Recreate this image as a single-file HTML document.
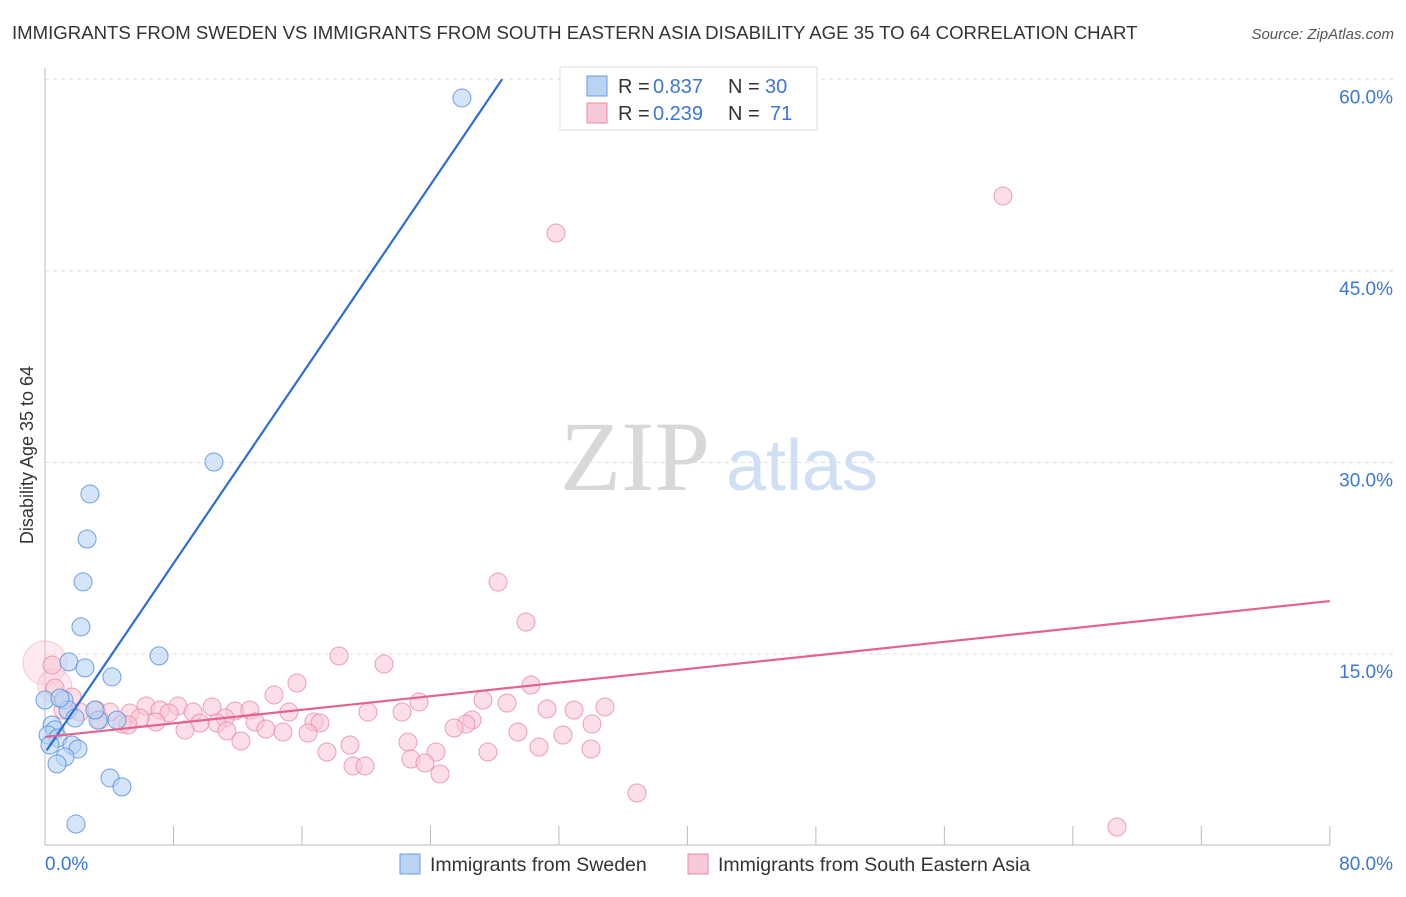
<!DOCTYPE html>
<html><head><meta charset="utf-8"><style>
body{margin:0;background:#fff;font-family:"Liberation Sans",sans-serif;}
</style></head><body>
<svg id="chart" width="1406" height="892" xmlns="http://www.w3.org/2000/svg" style="font-family:'Liberation Sans',sans-serif">
<text x="12" y="39" font-size="18.6" fill="#333">IMMIGRANTS FROM SWEDEN VS IMMIGRANTS FROM SOUTH EASTERN ASIA DISABILITY AGE 35 TO 64 CORRELATION CHART</text>
<text x="1394" y="39" font-size="15" fill="#555" font-style="italic" text-anchor="end">Source: ZipAtlas.com</text>
<text x="33" y="455" font-size="18" fill="#333" transform="rotate(-90 33 455)" text-anchor="middle">Disability Age 35 to 64</text>
<g>
<text x="635" y="490" font-size="100" fill="#d8d8d8" style="font-family:'Liberation Serif',serif" text-anchor="middle">ZIP</text>
<text x="802" y="490" font-size="72" fill="#cfe0f5" text-anchor="middle">atlas</text>
</g>
<g id="grid"></g><g id="axes"></g><g id="points"></g><g id="lines"></g>
<g>
<rect x="560" y="67" width="257" height="63" fill="#fff" stroke="#ddd"/>
<rect x="587" y="76" width="20" height="20" fill="#b9d3f5" stroke="#6a9ee0"/>
<rect x="587" y="103" width="20" height="20" fill="#f9c8d6" stroke="#e88aa8"/>
<text x="618" y="93" font-size="20" fill="#333">R =</text><text x="653" y="93" font-size="20" fill="#3a78d4">0.837</text>
<text x="728" y="93" font-size="20" fill="#333">N =</text><text x="765" y="93" font-size="20" fill="#3a78d4">30</text>
<text x="618" y="120" font-size="20" fill="#333">R =</text><text x="653" y="120" font-size="20" fill="#3a78d4">0.239</text>
<text x="728" y="120" font-size="20" fill="#333">N =</text><text x="770" y="120" font-size="20" fill="#3a78d4">71</text>
</g>
<g>
<rect x="400" y="854" width="20" height="20" fill="#b9d3f5" stroke="#6a9ee0"/>
<text x="430" y="871" font-size="19.5" fill="#333">Immigrants from Sweden</text>
<rect x="688" y="854" width="20" height="20" fill="#f9c8d6" stroke="#e88aa8"/>
<text x="718" y="871" font-size="19.5" fill="#333">Immigrants from South Eastern Asia</text>
</g>
</svg>
<script>
const blueX=[25.96,10.52,2.80,2.62,2.37,2.24,7.10,1.49,2.49,4.17,1.18,1.43,1.87,0.44,0.62,0.19,0.81,4.48,3.30,1.68,2.05,1.25,0.75,4.05,4.79,1.93,0,0.93,0.31,3.11];
const blueY=[58.54,30.03,27.53,24.0,20.64,17.12,14.85,14.38,13.91,13.2,11.39,10.61,9.98,9.44,9.05,8.65,8.42,9.82,9.82,7.87,7.56,6.93,6.39,5.29,4.59,1.68,11.39,11.55,7.87,10.61];
const pinkPx=[[1003,196],[556,233],[498,582],[526,622],[339,656],[384,664],[297,683],[531,685],[274,695],[419,702],[483,700],[507,703],[146,706],[178,706],[212,707],[160,710],[96,710],[110,712],[130,713],[169,713],[193,712],[235,711],[289,712],[368,712],[402,712],[547,709],[574,710],[605,707],[250,710],[225,718],[255,722],[314,722],[320,723],[156,722],[122,724],[472,720],[466,724],[217,723],[200,723],[592,724],[266,729],[185,730],[227,731],[283,732],[308,733],[454,728],[518,732],[408,742],[350,745],[488,752],[539,747],[563,735],[591,749],[241,741],[327,752],[436,752],[411,759],[425,763],[353,766],[365,766],[440,774],[637,793],[1117,827],[52,665],[55,688],[72,697],[63,710],[80,712],[100,720],[140,718],[128,725]];
const pinkX=pinkPx.map(p=>+((p[0]-45)/16.06).toFixed(2));
const pinkY=pinkPx.map(p=>+((845.5-p[1])/12.77).toFixed(2));
const blueFit=[7.26,1.853];
const pinkFit=[8.5,0.133];
const yTicks=[15,30,45,60];
const xTickLabels=["0.0%","80.0%"];
const sx=v=>45+v*16.06, sy=v=>845.5-v*12.77;
const NS="http://www.w3.org/2000/svg";
function mk(t,a,p){const e=document.createElementNS(NS,t);for(const k in a)e.setAttribute(k,a[k]);p.appendChild(e);return e;}
const grid=document.getElementById('grid'),axes=document.getElementById('axes'),pts=document.getElementById('points'),lines=document.getElementById('lines');
yTicks.forEach(v=>{
 const l=mk('line',{x1:45,x2:1395,y1:sy(v),y2:sy(v),stroke:'#ddd','stroke-dasharray':'4 4'},grid);
 
 
 const t=mk('text',{x:1393,y:sy(v)+24,'font-size':19,fill:'#3a78d4','text-anchor':'end'},axes);t.textContent=v.toFixed(1)+'%';
 
 
});
const ax=mk('line',{x1:45,x2:1330,y1:845,y2:845,stroke:'#bbb'},axes);


const ay=mk('line',{x1:45,x2:45,y1:68,y2:845,stroke:'#bbb'},axes);


for(let i=0;i<=10;i++){const tk=mk('line',{x1:sx(i*8),x2:sx(i*8),y1:826,y2:845,stroke:'#bbb'},axes);
 
 }
[[0,'start',45],[80,'end',1393]].forEach((d,i)=>{const t=mk('text',{x:d[2],y:870,'font-size':19,fill:'#3a78d4','text-anchor':d[1]},axes);t.textContent=xTickLabels[i];
 
 });
[[0,14.3,22],[0.6,12.5,17]].forEach(b=>{const c=mk('circle',{cx:sx(b[0]),cy:sy(b[1]),r:b[2],fill:'#f9c8d6','fill-opacity':0.4,stroke:'#e88aa8','stroke-opacity':0.4},pts);
 
 });
pinkX.forEach((x,i)=>{const c=mk('circle',{cx:sx(x),cy:sy(pinkY[i]),r:9,fill:'#f9c8d6','fill-opacity':0.6,stroke:'#e88aa8','stroke-opacity':0.8},pts);
 
 });
blueX.forEach((x,i)=>{const c=mk('circle',{cx:sx(x),cy:sy(blueY[i]),r:9,fill:'#b9d3f5','fill-opacity':0.6,stroke:'#5a90dc','stroke-opacity':0.85},pts);
 
 });
const xEnd=(60-blueFit[0])/blueFit[1];
const bl=mk('line',{x1:sx(0.1),y1:sy(blueFit[0]+blueFit[1]*0.1),x2:sx(xEnd),y2:sy(60),stroke:'#2a6fd6','stroke-width':2.2},lines);


const pl=mk('line',{x1:sx(0),y1:sy(pinkFit[0]),x2:sx(80),y2:sy(pinkFit[0]+pinkFit[1]*80),stroke:'#e4628f','stroke-width':2.2},lines);


</script>
</body></html>
